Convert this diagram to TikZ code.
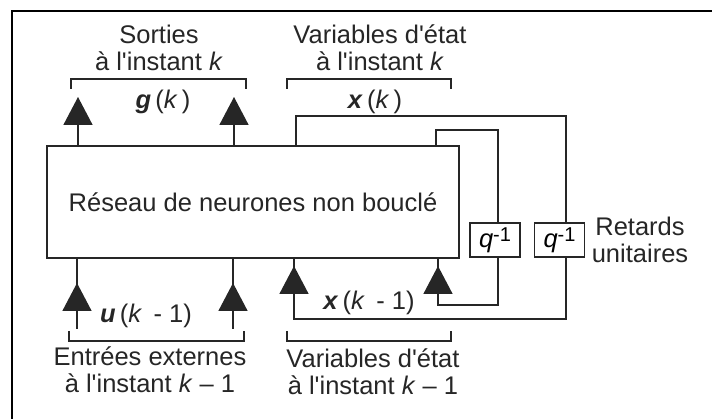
\documentclass[tikz,border=0pt]{standalone}
\usepackage{fontspec}
\setmainfont{Liberation Sans}
\usetikzlibrary{arrows.meta,backgrounds}
\tikzset{
 lbl/.style={font=\fontsize{25.5}{27}\selectfont,align=center,inner sep=0pt,text=black!85},
 trait/.style={line width=1.6pt,draw=black!85},
 fl/.style={trait,-{Triangle[width=29pt,length=28pt]}},
 acc/.style={line width=1.8pt,draw=black!85},
 retard/.style={draw=black!85,line width=1.6pt,fill=white,minimum width=50pt,minimum height=34pt,inner sep=0pt,font=\fontsize{25.5}{27}\selectfont}
}
\newcommand{\apos}{\textquotesingle}
\newcommand{\qinv}{\textit{q}\raisebox{6pt}{\fontsize{20}{20}\selectfont -1}}
\begin{document}
\begin{tikzpicture}[x=1pt,y=-1pt,line join=miter]
\useasboundingbox (0,0) rectangle (712,419);
\draw[line width=2.5pt] (12,419)--(12,11)--(712,11);
\node[trait,draw,minimum width=412pt,minimum height=112pt,inner sep=0pt,lbl] (res) at (253,202) {R\'eseau de neurones non boucl\'e};
\coordinate (s1) at (78,97); \coordinate (s2) at (234,97);
\coordinate (e1) at (77,329); \coordinate (e2) at (233,329);
\coordinate (xh) at (296,116); \coordinate (xb) at (294,319);
\coordinate (yh) at (436,130); \coordinate (yb) at (438,305);
\coordinate (r1) at (498,0); \coordinate (r2) at (566,0);
\node[retard] (q1) at (495,240) {\qinv};
\node[retard] (q2) at (559.5,240) {\qinv};
% sorties et entrees
\draw[fl] (s1|-res.north)--(s1);
\draw[fl] (s2|-res.north)--(s2);
\draw[trait] (e1)--(e1|-res.south) (e2)--(e2|-res.south);
\draw[fl] (e1)--++(0,-46);
\draw[fl] (e2)--++(0,-46);
% boucles de retour
\begin{scope}[on background layer]
\draw[trait] (xh|-res.north)--(xh)-|(r2|-q2.north);
\draw[trait] (yh|-res.north)--(yh)-|(r1|-q1.north);
\end{scope}
\draw[trait] (r2|-q2.south)|-(xb)--(xb|-res.south);
\draw[trait] (r1|-q1.south)|-(yb)--(yb|-res.south);
\draw[fl] (xb)--++(0,-53);
\draw[fl] (yb)--++(0,-39);
% accolades
\draw[acc] (71,89)|-(246,79)--++(0,10);
\draw[acc] (287,89)|-(451,79)--++(0,10);
\draw[acc] (69,331)|-(244,341)--++(0,-10);
\draw[acc] (287,331)|-(451,341)--++(0,-10);
% textes
\node[lbl] (sor) at (159,48) {Sorties\\\`a l\apos instant \textit{k}};
\node[lbl] (vk) at (380,48) {Variables d\apos\'etat\\\`a l\apos instant \textit{k}};
\node[lbl] (g) at (163,102) {\textbf{\textit{g}}\,(\textit{k}\,)};
\node[lbl] (x) at (375,102) {\textbf{\textit{x}}\,(\textit{k}\,)};
\node[lbl] (u) at (146,316) {\textbf{\textit{u}}\,(\textit{k}\, - 1)};
\node[lbl] (xm) at (369,303) {\textbf{\textit{x}}\,(\textit{k}\, - 1)};
\node[lbl] (ent) at (150,370) {Entr\'ees externes\\\`a l\apos instant \textit{k} -- 1};
\node[lbl] (vm) at (373,372) {Variables d\apos\'etat\\\`a l\apos instant \textit{k} -- 1};
\node[lbl] (ret) at (640,240) {Retards\\unitaires};
\end{tikzpicture}
\end{document}
